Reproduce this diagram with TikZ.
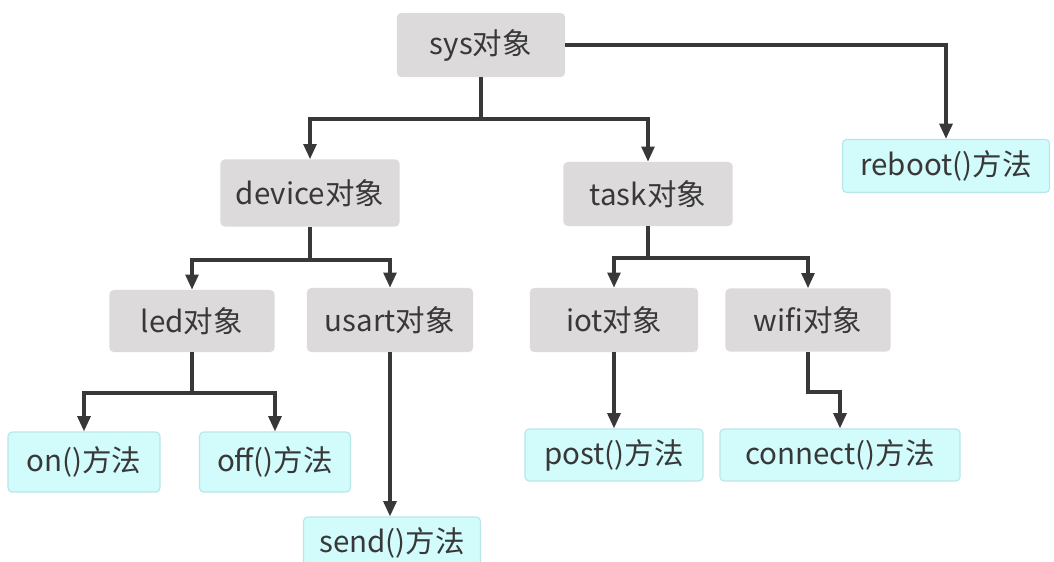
\documentclass[tikz,border=0pt]{standalone}
\usepackage{fontspec}
\setmainfont{Noto Sans CJK SC}
\usetikzlibrary{arrows.meta}
\definecolor{objgray}{HTML}{DCDADB}
\definecolor{methcyan}{HTML}{D2FBFB}
\definecolor{methedge}{HTML}{B9E6E8}
\definecolor{inkgray}{HTML}{383838}

\begin{document}
\begin{tikzpicture}[x=0.025cm, y=-0.025cm,
        every node/.style={font=\fontsize{21}{25}\selectfont, text=inkgray, inner sep=0pt},
        obj/.style={fill=objgray, rounded corners=3pt, minimum height=1.6cm},
        meth/.style={fill=methcyan, draw=methedge, line width=0.8pt, rounded corners=3pt, minimum height=1.3cm},
        link/.style={draw=inkgray, line width=2.4pt},
        arr/.style={link, -{Triangle[length=3.8mm, width=3.2mm]}}]
        \useasboundingbox (0,0) rectangle (1054,561);

        % Objects
        \node[obj, minimum width=4.2cm]   (sys)    at (481,45)  {sys对象};
        \node[obj, minimum width=4.475cm, minimum height=1.675cm] (device) at (310,193) {device对象};
        \node[obj, minimum width=4.225cm] (task)   at (648,194) {task对象};
        \node[obj, minimum width=4.125cm, minimum height=1.55cm] (led) at (192,321) {led对象};
        \node[obj, minimum width=4.15cm]  (usart)  at (390,320) {usart对象};
        \node[obj, minimum width=4.2cm]   (iot)    at (614,320) {iot对象};
        \node[obj, minimum width=4.125cm, minimum height=1.575cm] (wifi) at (808,320) {wifi对象};

        % Methods
        \node[meth, minimum width=5.175cm, minimum height=1.325cm] (reboot) at (946,166) {reboot()方法};
        \node[meth, minimum width=3.8cm, minimum height=1.5cm]   (on)  at (84,462)  {on()方法};
        \node[meth, minimum width=3.775cm, minimum height=1.5cm] (off) at (275,462) {off()方法};
        \node[meth, minimum width=4.425cm] (send)    at (392,543) {send()方法};
        \node[meth, minimum width=4.45cm]  (post)    at (614,455) {post()方法};
        \node[meth, minimum width=6cm]     (connect) at (840,455) {connect()方法};

        % Fork points
        \coordinate (sysfork)    at (481,119);
        \coordinate (devicefork) at (310,260);
        \coordinate (taskfork)   at (648,258);
        \coordinate (ledfork)    at (192,393);
        \coordinate (wifibend)   at (824,392);

        % Connectors
        \draw[arr] (sys.east) -| (reboot.north);
        \draw[link] (sys.south) -- (sysfork);
        \draw[arr] (sysfork) -| (device.north);
        \draw[arr] (sysfork) -| (task.north);
        \draw[link] (device.south) -- (devicefork);
        \draw[arr] (devicefork) -| (led.north);
        \draw[arr] (devicefork) -| (usart.north);
        \draw[link] (task.south) -- (taskfork);
        \draw[arr] (taskfork) -| (iot.north);
        \draw[arr] (taskfork) -| (wifi.north);
        \draw[link] (led.south) -- (ledfork);
        \draw[arr] (ledfork) -| (on.north);
        \draw[arr] (ledfork) -| (off.north);
        \draw[arr] (usart.south) -- (usart.south |- send.north);
        \draw[arr] (iot.south) -- (post.north);
        \draw[arr] (wifi.south) |- (wifibend) -| (connect.north);
    \end{tikzpicture}
\end{document}
